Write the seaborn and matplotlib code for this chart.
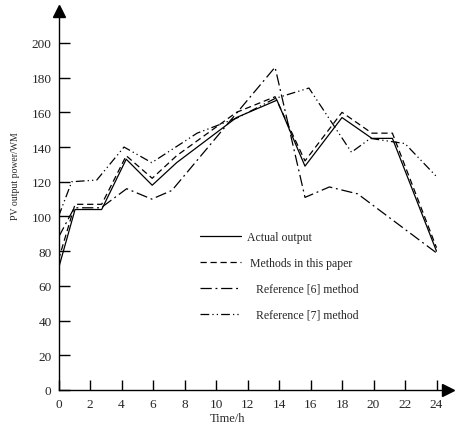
import pandas as pd
import seaborn as sns
import matplotlib.pyplot as plt

# values
actual_h = [0, 1.05, 2.74, 4.3, 5.95, 7.5, 11.3, 13.87, 15.65, 18.0, 19.9, 21.2, 24]
actual_v = [70, 104, 104, 133, 118, 131, 157, 167, 129, 157, 145, 145, 80]

paper_h = [0, 1.05, 2.74, 4.3, 5.95, 7.5, 11.3, 13.75, 15.65, 18.0, 19.9, 21.2, 24]
paper_v = [75, 107, 107, 135, 122, 135, 160, 169, 132, 160, 148, 148, 82]

ref6_h = [0, 1.0, 2.7, 4.33, 5.92, 7.2, 13.75, 15.65, 17.2, 19.0, 24]
ref6_v = [88, 105, 105, 116, 110, 115, 186, 111, 117, 113, 79]

ref7_h = [0, 0.84, 2.43, 4.16, 5.92, 8.8, 11.4, 13.75, 15.9, 18.6, 19.8, 22.0, 24]
ref7_v = [100, 120, 121, 140, 131, 148, 157, 168, 174, 137, 145, 142, 123]

labels = ["Actual output", " Methods in this paper",
          "   Reference [6] method", "   Reference [7] method"]
x_ticks = list(range(0, 25, 2))
y_ticks = list(range(0, 201, 20))

frames = []
for lab, hs, vs in zip(labels, [actual_h, paper_h, ref6_h, ref7_h],
                       [actual_v, paper_v, ref6_v, ref7_v]):
    frames.append(pd.DataFrame({"Time/h": hs, "power": vs, "series": lab}))
df = pd.concat(frames, ignore_index=True)

sns.set_style("ticks")
plt.rcParams["font.family"] = ["Liberation Serif", "DejaVu Serif"]

fig = plt.figure(figsize=(4.56, 4.31), dpi=100)
ax = fig.add_axes([58.5 / 456, 40 / 431, 389.5 / 456, 379 / 431])

dashes = {
    labels[0]: "",
    labels[1]: (5, 3),
    labels[2]: (9, 3, 1.5, 3),
    labels[3]: (7, 2.5, 1, 2.5, 1, 2.5),
}
sns.lineplot(
    data=df, x="Time/h", y="power", hue="series", style="series",
    palette=["black"] * 4, dashes=dashes, linewidth=0.9, ax=ax,
    estimator=None, sort=False,
)

ax.set_xlim(0, 24.73)
ax.set_ylim(0, 218.4)
ax.set_xticks(x_ticks)
ax.set_yticks(y_ticks)
ax.tick_params(direction="in", length=8, width=1, labelsize=9.5, pad=5, color="black")
ax.tick_params(axis="x", length=7, pad=6)

sns.despine(ax=ax)
for s in ["left", "bottom"]:
    ax.spines[s].set_linewidth(1)
    ax.spines[s].set_color("black")

# arrow heads on the axes
ax.plot(1, 0, ">k", markersize=8, transform=ax.get_yaxis_transform(), clip_on=False)
ax.plot(0, 1, "^k", markersize=8, transform=ax.get_xaxis_transform(), clip_on=False)

ax.set_xlabel("Time/h", fontsize=9)
ax.set_ylabel("PV output power/WM", fontsize=7)
ax.xaxis.set_label_coords(0.435, -0.058)
ax.yaxis.set_label_coords(-0.099, 0.567)

ax.legend(
    frameon=False, fontsize=8.5, loc="upper left",
    bbox_to_anchor=(200 / 456, 1 - 232 / 431), bbox_transform=fig.transFigure,
    handlelength=3.5, handletextpad=0.5, labelspacing=1.18,
    borderpad=0, borderaxespad=0,
)

fig.savefig("out.png", dpi=100)
